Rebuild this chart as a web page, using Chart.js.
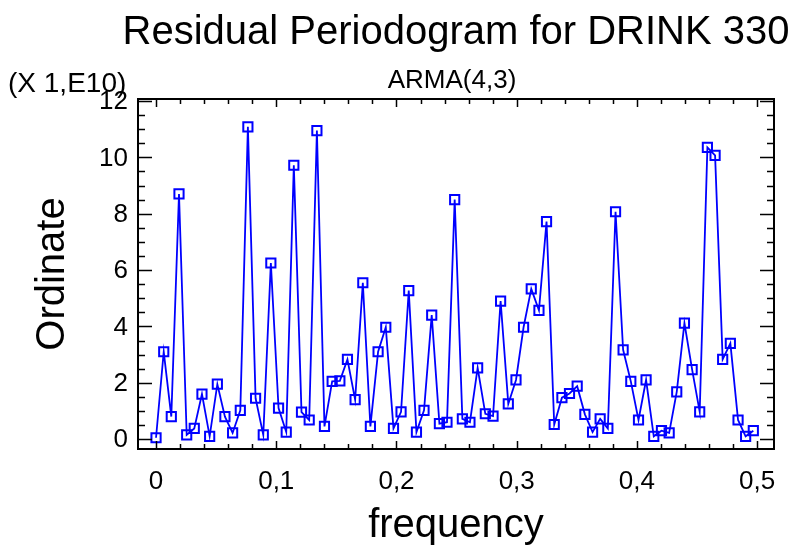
<!DOCTYPE html>
<html>
<head>
<meta charset="utf-8">
<script src="https://cdn.jsdelivr.net/npm/chart.js@4.4.1/dist/chart.umd.min.js"></script>
<style>
  html, body { margin: 0; padding: 0; background: #fff; }
  #wrap { width: 802px; height: 547px; }
</style>
</head>
<body>
<div id="wrap"><canvas id="periodogram" width="802" height="547"></canvas></div>
<script>
// chart texts
var titleText = 'Residual Periodogram for DRINK 330';
var subTitle = 'ARMA(4,3)';
var scaleNote = '(X 1,E10)';
var xTitle = 'frequency';
var yTitle = 'Ordinate';

// Fourier frequencies (k/157)
var frequency = [
  0, .0064, .0127, .0191, .0255, .0318, .0382, .0446, .0510, .0573,
  .0637, .0701, .0764, .0828, .0892, .0955, .1019, .1083, .1146, .1210,
  .1274, .1338, .1401, .1465, .1529, .1592, .1656, .1720, .1783, .1847,
  .1911, .1975, .2038, .2102, .2166, .2229, .2293, .2357, .2420, .2484,
  .2548, .2611, .2675, .2739, .2803, .2866, .2930, .2994, .3057, .3121,
  .3185, .3248, .3312, .3376, .3439, .3503, .3567, .3631, .3694, .3758,
  .3822, .3885, .3949, .4013, .4076, .4140, .4204, .4268, .4331, .4395,
  .4459, .4522, .4586, .4650, .4713, .4777, .4841, .4904, .4968
];

// periodogram ordinates (x 1E10)
var ordinate = [
  0.05, 3.1, 0.8, 8.7, 0.15, 0.38, 1.6, 0.1, 1.95, 0.8,
  0.22, 1.02, 11.08, 1.45, 0.15, 6.25, 1.1, 0.25, 9.72, 0.96,
  0.68, 10.95, 0.45, 2.05, 2.07, 2.83, 1.4, 5.55, 0.45, 3.1,
  3.97, 0.38, 0.97, 5.27, 0.25, 1.02, 4.4, 0.55, 0.6, 8.5,
  0.72, 0.6, 2.53, 0.9, 0.82, 4.9, 1.25, 2.1, 3.97, 5.33,
  4.57, 7.72, 0.52, 1.47, 1.62, 1.88, 0.88, 0.25, 0.72, 0.38,
  8.07, 3.17, 2.05, 0.68, 2.1, 0.1, 0.3, 0.22, 1.68, 4.12,
  2.47, 0.97, 10.35, 10.07, 2.83, 3.4, 0.68, 0.1, 0.3
];

var xTicks = [0, 0.1, 0.2, 0.3, 0.4, 0.5];
var xTickLabels = ['0', '0,1', '0,2', '0,3', '0,4', '0,5'];
var yTicks = [0, 2, 4, 6, 8, 10, 12];
var xMinorStep = 0.02;
var yMinorStep = 0.5;

var fontFamily = '"Liberation Sans", Arial, sans-serif';

var points = frequency.map(function (f, i) { return { x: f, y: ordinate[i] }; });

// frame, inward ticks, tick labels and free texts
var framePlugin = {
  id: 'frame',
  afterDraw: function (chart) {
    var ctx = chart.ctx;
    var a = chart.chartArea;
    var xs = chart.scales.x, ys = chart.scales.y;
    ctx.save();
    ctx.strokeStyle = '#000';
    ctx.lineWidth = 2;
    ctx.strokeRect(a.left, a.top, a.right - a.left, a.bottom - a.top);

    ctx.lineWidth = 1.5;
    ctx.beginPath();
    for (var v = 0; v <= 0.5001; v += xMinorStep) {
      var px = Math.round(xs.getPixelForValue(v)) + 0.5;
      var major = Math.abs(v * 10 - Math.round(v * 10)) < 1e-6;
      var len = major ? 8 : 5;
      ctx.moveTo(px, a.bottom); ctx.lineTo(px, a.bottom - len);
      ctx.moveTo(px, a.top); ctx.lineTo(px, a.top + len);
    }
    for (var w = 0; w <= 12.001; w += yMinorStep) {
      var py = Math.round(ys.getPixelForValue(w)) + 0.5;
      var majorY = Math.abs(w / 2 - Math.round(w / 2)) < 1e-6;
      var lenY = majorY ? 14 : 7;
      ctx.moveTo(a.left, py); ctx.lineTo(a.left + lenY, py);
      ctx.moveTo(a.right, py); ctx.lineTo(a.right - lenY, py);
    }
    ctx.stroke();

    ctx.fillStyle = '#000';
    // tick labels
    ctx.font = '26px ' + fontFamily;
    ctx.textAlign = 'center';
    ctx.textBaseline = 'alphabetic';
    xTicks.forEach(function (t, i) {
      ctx.fillText(xTickLabels[i], xs.getPixelForValue(t), a.bottom + 40);
    });
    ctx.font = '26px ' + fontFamily;
    ctx.textAlign = 'right';
    ctx.textBaseline = 'middle';
    yTicks.forEach(function (t) {
      ctx.fillText(String(t), a.left - 10, ys.getPixelForValue(t) + 1);
    });

    var cx = (a.left + a.right) / 2;
    ctx.textBaseline = 'alphabetic';
    ctx.textAlign = 'center';
    ctx.font = '40px ' + fontFamily;
    ctx.fillText(titleText, cx, 44);
    ctx.font = '26px ' + fontFamily;
    ctx.fillText(subTitle, cx - 4, 88);
    ctx.textAlign = 'left';
    ctx.font = '28px ' + fontFamily;
    ctx.fillText(scaleNote, 8, 92);
    ctx.textAlign = 'center';
    ctx.font = '40px ' + fontFamily;
    ctx.fillText(xTitle, cx, 537);
    ctx.translate(64, (a.top + a.bottom) / 2);
    ctx.rotate(-Math.PI / 2);
    ctx.fillText(yTitle, 0, 0);
    ctx.restore();
  }
};

var ctx = document.getElementById('periodogram').getContext('2d');
var periodogram = new Chart(ctx, {
  type: 'line',
  data: {
    datasets: [{
      data: points,
      borderColor: '#0000ff',
      borderWidth: 1.8,
      tension: 0,
      pointStyle: 'rect',
      pointRadius: 6.5,
      pointBorderWidth: 2,
      pointBorderColor: '#0000ff',
      pointBackgroundColor: 'rgba(0,0,0,0)',
      clip: false
    }]
  },
  options: {
    responsive: false,
    animation: false,
    layout: { padding: { top: 99, right: 28, left: 0, bottom: 0 } },
    plugins: {
      legend: { display: false },
      title: { display: false },
      tooltip: { enabled: false }
    },
    scales: {
      x: {
        type: 'linear',
        min: -0.015,
        max: 0.514,
        afterBuildTicks: function (s) { s.ticks = xTicks.map(function (v) { return { value: v }; }); },
        afterFit: function (s) { s.height = 98; },
        grid: { display: false, drawTicks: false },
        border: { display: false },
        ticks: { display: false }
      },
      y: {
        type: 'linear',
        min: -0.35,
        max: 12.07,
        afterBuildTicks: function (s) { s.ticks = yTicks.map(function (v) { return { value: v }; }); },
        afterFit: function (s) { s.width = 138; },
        grid: { display: false, drawTicks: false },
        border: { display: false },
        ticks: { display: false }
      }
    }
  },
  plugins: [framePlugin]
});
</script>
</body>
</html>
